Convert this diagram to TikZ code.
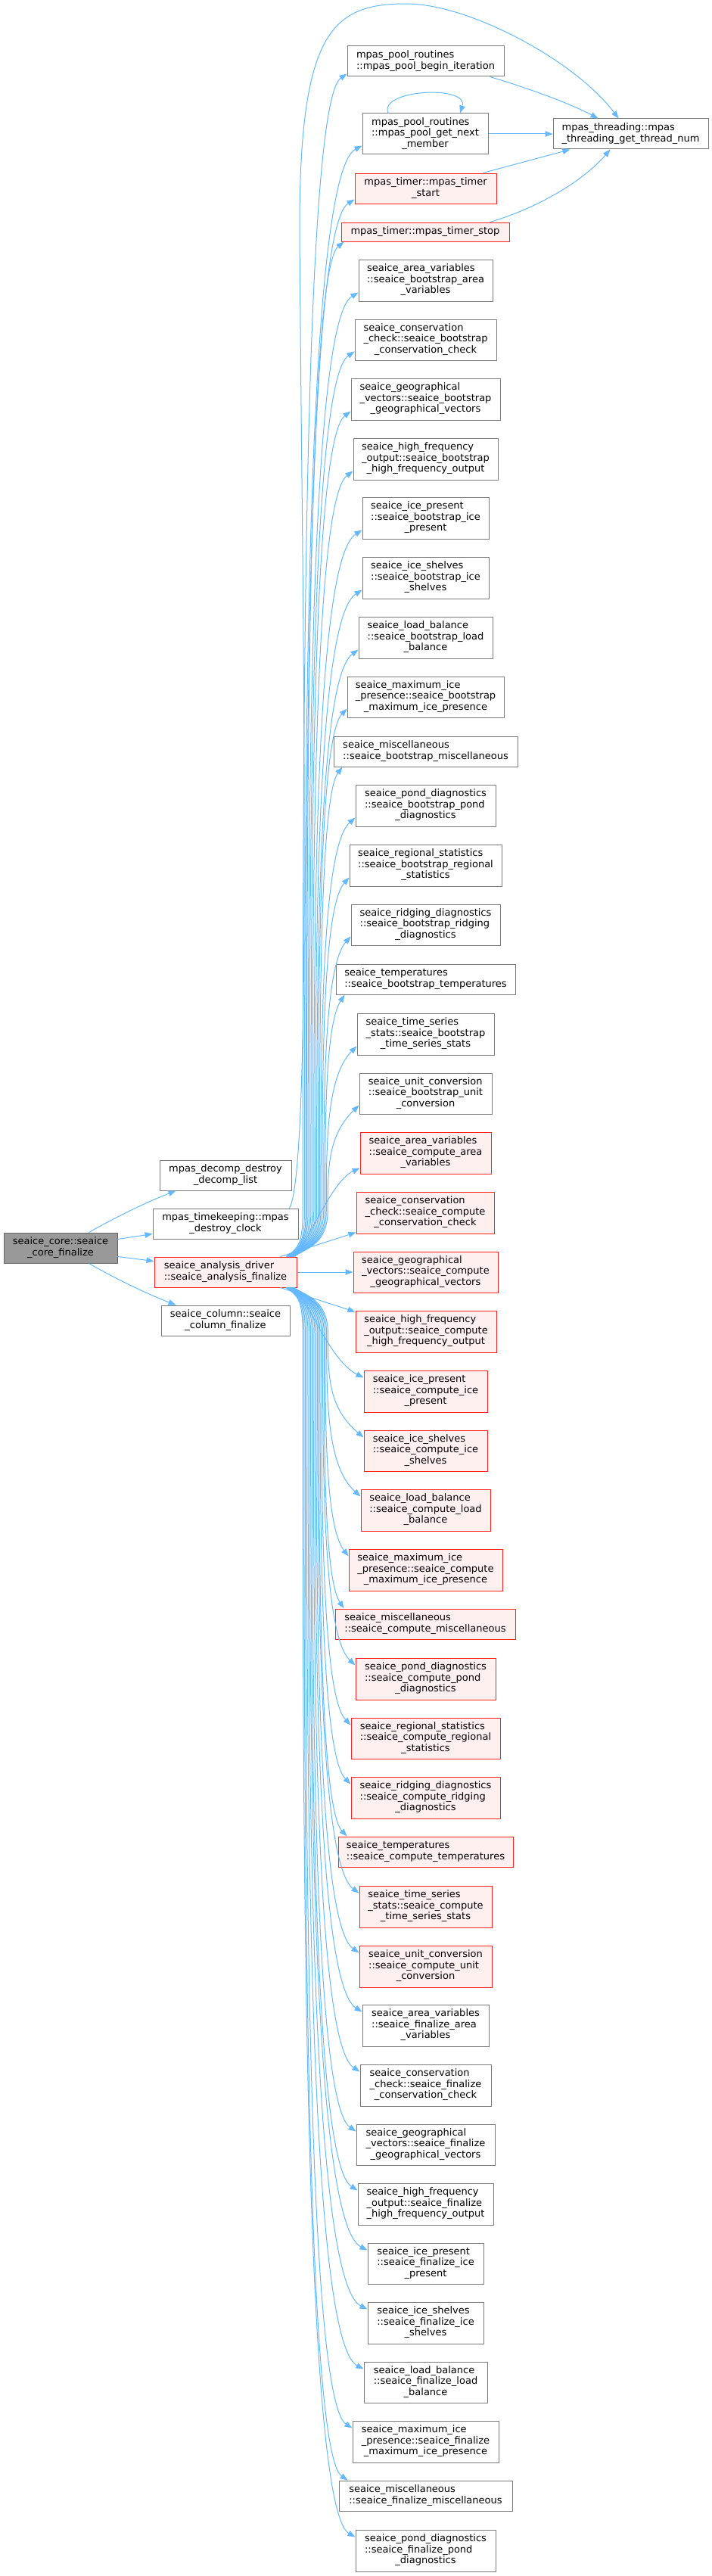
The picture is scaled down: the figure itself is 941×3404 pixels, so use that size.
\documentclass[tikz,border=0pt]{standalone}
\usepackage{fontspec}
\setmainfont{DejaVu Sans}
\usetikzlibrary{arrows.meta,calc}
\definecolor{edgec}{HTML}{63B8FF}
\definecolor{nodeb}{HTML}{7A7A7A}
\definecolor{redb}{HTML}{FF2020}
\definecolor{redf}{HTML}{FFF0F0}
\definecolor{rootf}{HTML}{999999}
\definecolor{rootb}{HTML}{666666}
\newcommand\lbl[2]{\begin{tabular}{@{}l@{}}#1\\\multicolumn{1}{@{}c@{}}{#2}\end{tabular}}
\newcommand\one[1]{\begin{tabular}{@{}c@{}}#1\end{tabular}}
\newcommand\mknode[7][]{\node[box,#1,minimum width={(#5-#3)*1pt},minimum height={(#6-#4)*1pt}] (#2) at ({(#3+#5)/2},{(#4+#6)/2}) {#7};}
\newcommand\upedge[1]{%
 \draw[conn] let \p2=(#1), \p1=(an.north), \n1={\y2-\y1}, \n2={438pt-38*(\n1/1570)}, \n3={\x1+92pt-12*(\n1/1570)} in
  (\n3,\y1) .. controls ({\n3+16pt},{\y1+11pt}) and (\n2,{\y1+16pt}) .. (\n2,{\y1+61pt})
  .. controls (\n2,{\y1+61pt+0.4*(\n1-61pt)}) and (\n2,{\y2-40pt}) .. (\p2);}
\newcommand\downedge[1]{%
 \draw[conn] let \p2=(#1), \p1=(an.south), \n1={\y1-\y2}, \n2={438pt-38*(\n1/1654)}, \n3={\x1+92pt-12*(\n1/1654)} in
  (\n3,\y1) .. controls ({\n3+16pt},{\y1-11pt}) and (\n2,{\y1-16pt}) .. (\n2,{\y1-61pt})
  .. controls (\n2,{\y1-61pt-0.4*(\n1-61pt)}) and (\n2,{\y2+40pt}) .. (\p2);}
\begin{document}
\begin{tikzpicture}[x=1pt,y=-1pt,
 box/.style={draw=nodeb, fill=white, line width=1pt, inner sep=0pt, font=\fontsize{13}{14.5}\selectfont, text=black},
 redbox/.style={draw=redb, fill=redf},
 rootbox/.style={draw=rootb, fill=rootf},
 conn/.style={draw=edgec, line width=1pt, -{Triangle[length=10pt,width=7.5pt]}}]
\useasboundingbox (0,0) rectangle (941,3404);

% left nodes
\mknode[rootbox]{root}{5}{1629}{155}{1669}{\lbl{seaice\_core::seaice}{\_core\_finalize}}
\mknode{dd}{211}{1533}{385}{1573}{\lbl{mpas\_decomp\_destroy}{\_decomp\_list}}
\mknode{tk}{202}{1597}{394}{1637}{\lbl{mpas\_timekeeping::mpas}{\_destroy\_clock}}
\mknode[redbox]{an}{204}{1661}{392}{1701}{\lbl{seaice\_analysis\_driver}{::seaice\_analysis\_finalize}}
\mknode{col}{213}{1725}{383}{1765}{\lbl{seaice\_column::seaice}{\_column\_finalize}}

% top group
\mknode{pb}{459}{61}{666}{101}{\lbl{mpas\_pool\_routines}{::mpas\_pool\_begin\_iteration}}
\mknode{gn}{479}{150}{645}{204}{\lbl{mpas\_pool\_routines\\::mpas\_pool\_get\_next}{\_member}}
\mknode[redbox]{ts}{469}{229}{656}{269}{\lbl{mpas\_timer::mpas\_timer}{\_start}}
\mknode[redbox]{tp}{451}{294}{673}{319}{\one{mpas\_timer::mpas\_timer\_stop}}
\mknode{thr}{731}{157}{936}{197}{\lbl{mpas\_threading::mpas}{\_threading\_get\_thread\_num}}

% bootstrap
\mknode{b1}{474}{343}{651}{398}{\lbl{seaice\_area\_variables\\::seaice\_bootstrap\_area}{\_variables}}
\mknode{b2}{469}{422}{656}{476}{\lbl{seaice\_conservation\\\_check::seaice\_bootstrap}{\_conservation\_check}}
\mknode{b3}{464}{500}{661}{555}{\lbl{seaice\_geographical\\\_vectors::seaice\_bootstrap}{\_geographical\_vectors}}
\mknode{b4}{467}{579}{658}{634}{\lbl{seaice\_high\_frequency\\\_output::seaice\_bootstrap}{\_high\_frequency\_output}}
\mknode{b5}{479}{657}{646}{712}{\lbl{seaice\_ice\_present\\::seaice\_bootstrap\_ice}{\_present}}
\mknode{b6}{479}{736}{646}{791}{\lbl{seaice\_ice\_shelves\\::seaice\_bootstrap\_ice}{\_shelves}}
\mknode{b7}{474}{815}{651}{870}{\lbl{seaice\_load\_balance\\::seaice\_bootstrap\_load}{\_balance}}
\mknode{b8}{459}{894}{666}{948}{\lbl{seaice\_maximum\_ice\\\_presence::seaice\_bootstrap}{\_maximum\_ice\_presence}}
\mknode{b9}{441}{973}{684}{1013}{\lbl{seaice\_miscellaneous}{::seaice\_bootstrap\_miscellaneous}}
\mknode{b10}{470}{1037}{655}{1092}{\lbl{seaice\_pond\_diagnostics\\::seaice\_bootstrap\_pond}{\_diagnostics}}
\mknode{b11}{462}{1116}{663}{1171}{\lbl{seaice\_regional\_statistics\\::seaice\_bootstrap\_regional}{\_statistics}}
\mknode{b12}{464}{1195}{661}{1249}{\lbl{seaice\_ridging\_diagnostics\\::seaice\_bootstrap\_ridging}{\_diagnostics}}
\mknode{b13}{444}{1274}{681}{1314}{\lbl{seaice\_temperatures}{::seaice\_bootstrap\_temperatures}}
\mknode{b14}{472}{1339}{653}{1394}{\lbl{seaice\_time\_series\\\_stats::seaice\_bootstrap}{\_time\_series\_stats}}
\mknode{b15}{475}{1418}{650}{1472}{\lbl{seaice\_unit\_conversion\\::seaice\_bootstrap\_unit}{\_conversion}}

% compute
\mknode[redbox]{c1}{476}{1496}{649}{1551}{\lbl{seaice\_area\_variables\\::seaice\_compute\_area}{\_variables}}
\mknode[redbox]{c2}{471}{1575}{653}{1630}{\lbl{seaice\_conservation\\\_check::seaice\_compute}{\_conservation\_check}}
\mknode[redbox]{c3}{467}{1654}{658}{1708}{\lbl{seaice\_geographical\\\_vectors::seaice\_compute}{\_geographical\_vectors}}
\mknode[redbox]{c4}{470}{1732}{656}{1787}{\lbl{seaice\_high\_frequency\\\_output::seaice\_compute}{\_high\_frequency\_output}}
\mknode[redbox]{c5}{481}{1811}{644}{1866}{\lbl{seaice\_ice\_present\\::seaice\_compute\_ice}{\_present}}
\mknode[redbox]{c6}{481}{1890}{644}{1944}{\lbl{seaice\_ice\_shelves\\::seaice\_compute\_ice}{\_shelves}}
\mknode[redbox]{c7}{477}{1968}{648}{2023}{\lbl{seaice\_load\_balance\\::seaice\_compute\_load}{\_balance}}
\mknode[redbox]{c8}{461}{2047}{664}{2102}{\lbl{seaice\_maximum\_ice\\\_presence::seaice\_compute}{\_maximum\_ice\_presence}}
\mknode[redbox]{c9}{443}{2126}{681}{2166}{\lbl{seaice\_miscellaneous}{::seaice\_compute\_miscellaneous}}
\mknode[redbox]{c10}{470}{2191}{655}{2246}{\lbl{seaice\_pond\_diagnostics\\::seaice\_compute\_pond}{\_diagnostics}}
\mknode[redbox]{c11}{464}{2270}{661}{2324}{\lbl{seaice\_regional\_statistics\\::seaice\_compute\_regional}{\_statistics}}
\mknode[redbox]{c12}{464}{2348}{661}{2403}{\lbl{seaice\_ridging\_diagnostics\\::seaice\_compute\_ridging}{\_diagnostics}}
\mknode[redbox]{c13}{447}{2427}{678}{2467}{\lbl{seaice\_temperatures}{::seaice\_compute\_temperatures}}
\mknode[redbox]{c14}{475}{2492}{650}{2547}{\lbl{seaice\_time\_series\\\_stats::seaice\_compute}{\_time\_series\_stats}}
\mknode[redbox]{c15}{475}{2571}{650}{2626}{\lbl{seaice\_unit\_conversion\\::seaice\_compute\_unit}{\_conversion}}

% finalize
\mknode{f1}{479}{2649}{646}{2704}{\lbl{seaice\_area\_variables\\::seaice\_finalize\_area}{\_variables}}
\mknode{f2}{476}{2728}{649}{2783}{\lbl{seaice\_conservation\\\_check::seaice\_finalize}{\_conservation\_check}}
\mknode{f3}{471}{2807}{654}{2861}{\lbl{seaice\_geographical\\\_vectors::seaice\_finalize}{\_geographical\_vectors}}
\mknode{f4}{473}{2885}{652}{2940}{\lbl{seaice\_high\_frequency\\\_output::seaice\_finalize}{\_high\_frequency\_output}}
\mknode{f5}{486}{2964}{639}{3018}{\lbl{seaice\_ice\_present\\::seaice\_finalize\_ice}{\_present}}
\mknode{f6}{486}{3042}{639}{3097}{\lbl{seaice\_ice\_shelves\\::seaice\_finalize\_ice}{\_shelves}}
\mknode{f7}{481}{3121}{644}{3175}{\lbl{seaice\_load\_balance\\::seaice\_finalize\_load}{\_balance}}
\mknode{f8}{466}{3199}{659}{3254}{\lbl{seaice\_maximum\_ice\\\_presence::seaice\_finalize}{\_maximum\_ice\_presence}}
\mknode{f9}{448}{3278}{677}{3318}{\lbl{seaice\_miscellaneous}{::seaice\_finalize\_miscellaneous}}
\mknode{f10}{470}{3343}{655}{3398}{\lbl{seaice\_pond\_diagnostics\\::seaice\_finalize\_pond}{\_diagnostics}}

% root edges
\draw[conn] ([xshift=-38pt]root.north east) .. controls (150,1610) and (190,1590) .. ([xshift=22pt]dd.south west);
\draw[conn] ([yshift=-9pt]root.north east) -- ([yshift=-34pt]tk.north west);
\draw[conn] ([yshift=9pt]root.south east) -- ([yshift=-6pt]an.north west);
\draw[conn] ([xshift=-38pt]root.south east) .. controls (150,1688) and (190,1708) .. ([xshift=20pt]col.north west);

% timekeeping -> threading (big arc)
\draw[conn] ([xshift=-12pt]tk.north east) .. controls (415,1540) and (398,700) .. (396,300)
  .. controls (396,40) and (440,5) .. (537,5) .. controls (620,5) and (760,80) .. ([xshift=-16pt]thr.north);

% top group -> threading
\draw[conn] ([xshift=-19pt]pb.south east) .. controls (690,114) and (750,135) .. ([xshift=-43pt]thr.north);
\draw[conn] (gn.east) -- (thr.west);
\draw[conn] ([xshift=-18pt]ts.north east) -- ([xshift=-80pt]thr.south);
\draw[conn] ([xshift=-26pt]tp.north east) .. controls (710,275) and (770,240) .. ([xshift=-27pt]thr.south);
\draw[conn] ([xshift=-49pt]gn.north) .. controls (500,118) and (620,112) .. ([xshift=46pt]gn.north);

% analysis -> up targets
\upedge{[yshift=4pt]pb.south west}
\upedge{[yshift=12pt]gn.south west}
\upedge{[yshift=6pt]ts.south west}
\upedge{[xshift=4pt]tp.south west}
\foreach \k in {1,2,3,4,5,6,7,8,10,11,12,14,15}{\upedge{[yshift=12pt]b\k.south west}}
\upedge{[xshift=12pt]b9.south west}
\upedge{[xshift=12pt]b13.south west}
\draw[conn] ([xshift=92pt]an.north) .. controls (415,1625) and (440,1560) .. ([yshift=8pt]c1.south west);

% analysis -> direct neighbours
\draw[conn] ([xshift=-22pt]an.north east) -- ([yshift=2pt]c2.south west);
\draw[conn] (an.east) -- (c3.west);
\draw[conn] ([xshift=-22pt]an.south east) -- ([yshift=-2pt]c4.north west);

% analysis -> down targets
\draw[conn] ([xshift=92pt]an.south) .. controls (415,1737) and (440,1800) .. ([yshift=-10pt]c5.north west);
\foreach \k in {6,7,8,10,11,12,14,15}{\downedge{[yshift=-10pt]c\k.north west}}
\downedge{[xshift=12pt]c9.north west}
\downedge{[xshift=12pt]c13.north west}
\foreach \k in {1,2,3,4,5,6,7,8,10}{\downedge{[yshift=-10pt]f\k.north west}}
\downedge{[xshift=12pt]f9.north west}
\end{tikzpicture}
\end{document}
